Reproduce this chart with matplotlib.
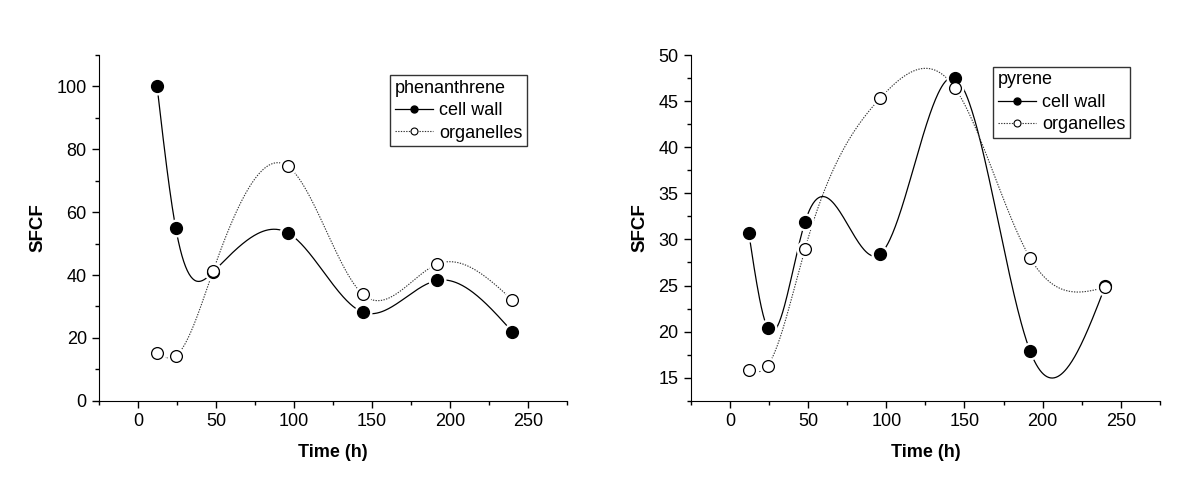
import numpy as np
import matplotlib
matplotlib.use("Agg")
import matplotlib.pyplot as plt
from matplotlib.ticker import MultipleLocator

plt.rcParams['font.family'] = ['Liberation Sans', 'DejaVu Sans']

# Sampling times (h)
time_h = [12, 24, 48, 96, 144, 192, 240]

# phenanthrene
phen_cell_wall = [100.2, 55.0, 41.0, 53.4, 28.2, 38.3, 22.0]
phen_organelles = [15.1, 14.3, 41.3, 74.6, 33.9, 43.5, 32.1]

# pyrene
pyr_cell_wall = [30.7, 20.4, 31.9, 28.4, 47.5, 17.9, 24.9]
pyr_organelles = [15.8, 16.3, 29.0, 45.3, 46.4, 28.0, 24.8]


def natural_spline(x, y, n=400):
    # smooth connecting curve (Origin-style spline line)
    x = np.asarray(x, float)
    y = np.asarray(y, float)
    m = len(x)
    h = np.diff(x)
    A = np.zeros((m, m))
    b = np.zeros(m)
    A[0, 0] = 1
    A[-1, -1] = 1
    for i in range(1, m - 1):
        A[i, i - 1] = h[i - 1]
        A[i, i] = 2 * (h[i - 1] + h[i])
        A[i, i + 1] = h[i]
        b[i] = 6 * ((y[i + 1] - y[i]) / h[i] - (y[i] - y[i - 1]) / h[i - 1])
    M = np.linalg.solve(A, b)
    xs = np.linspace(x[0], x[-1], n)
    idx = np.clip(np.searchsorted(x, xs) - 1, 0, m - 2)
    x0, x1 = x[idx], x[idx + 1]
    hi = x1 - x0
    ys = (M[idx] * (x1 - xs) ** 3 / (6 * hi) + M[idx + 1] * (xs - x0) ** 3 / (6 * hi)
          + (y[idx] / hi - M[idx] * hi / 6) * (x1 - xs)
          + (y[idx + 1] / hi - M[idx + 1] * hi / 6) * (xs - x0))
    return xs, ys


def draw_panel(ax, cw, org, ylim, ymajor, yminor):
    xs, ys = natural_spline(time_h, cw)
    ax.plot(xs, ys, color='black', lw=0.9, zorder=2)
    xs, ys = natural_spline(time_h, org)
    ax.plot(xs, ys, color='#333333', lw=0.8, ls=(0, (1.2, 1.2)), zorder=2)

    # white halos give the gap around symbols
    ax.plot(time_h, cw, 'o', color='white', ms=13, mew=0, zorder=3)
    ax.plot(time_h, org, 'o', color='white', ms=13, mew=0, zorder=3)

    ax.plot(time_h, cw, 'o', color='black', ms=8.5, mew=1, zorder=4)
    ax.plot(time_h, org, 'o', mfc='white', mec='black', ms=8.5, mew=0.9, zorder=5)

    # legend proxies
    ax.plot([], [], '-o', color='black', lw=0.9, ms=5, label='cell wall')
    ax.plot([], [], 'o', ls=(0, (1.2, 1.2)), color='#333333', mfc='white', mec='black',
            lw=0.8, ms=5, mew=0.8, label='organelles')

    ax.set_xlim(-25, 275)
    ax.set_ylim(*ylim)
    ax.xaxis.set_major_locator(MultipleLocator(50))
    ax.xaxis.set_minor_locator(MultipleLocator(25))
    ax.yaxis.set_major_locator(MultipleLocator(ymajor))
    ax.yaxis.set_minor_locator(MultipleLocator(yminor))
    ax.tick_params(which='both', direction='out', labelsize=13, width=1)
    ax.tick_params(which='major', length=5, pad=4)
    ax.tick_params(which='minor', length=3)
    ax.spines['top'].set_visible(False)
    ax.spines['right'].set_visible(False)
    ax.set_xlabel('Time (h)', fontsize=13, fontweight='bold', labelpad=10)
    ax.set_ylabel('SFCF', fontsize=13.5, fontweight='bold', labelpad=7)
    return ax


fig = plt.figure(figsize=(12, 4.8), dpi=100)
ax1 = fig.add_axes([0.0828, 0.165, 0.3895, 0.7204])
ax2 = fig.add_axes([0.5758, 0.165, 0.3907, 0.7204])

draw_panel(ax1, phen_cell_wall, phen_organelles, (0, 110), 20, 10)
draw_panel(ax2, pyr_cell_wall, pyr_organelles, (12.5, 50), 5, 2.5)

for ax, title, anchor in [(ax1, 'phenanthrene', (0.622, 0.942)),
                          (ax2, 'pyrene', (0.645, 0.966))]:
    leg = ax.legend(title=title, loc='upper left', bbox_to_anchor=anchor,
                    fontsize=13, title_fontsize=13, frameon=True, fancybox=False,
                    edgecolor='#333333', framealpha=1, borderpad=0.25,
                    handlelength=2.1, handletextpad=0.35, labelspacing=0.3,
                    borderaxespad=0, alignment='left')
    leg.get_frame().set_linewidth(1)
    leg._legend_box.sep = 4

fig.savefig('out.png', dpi=100)
